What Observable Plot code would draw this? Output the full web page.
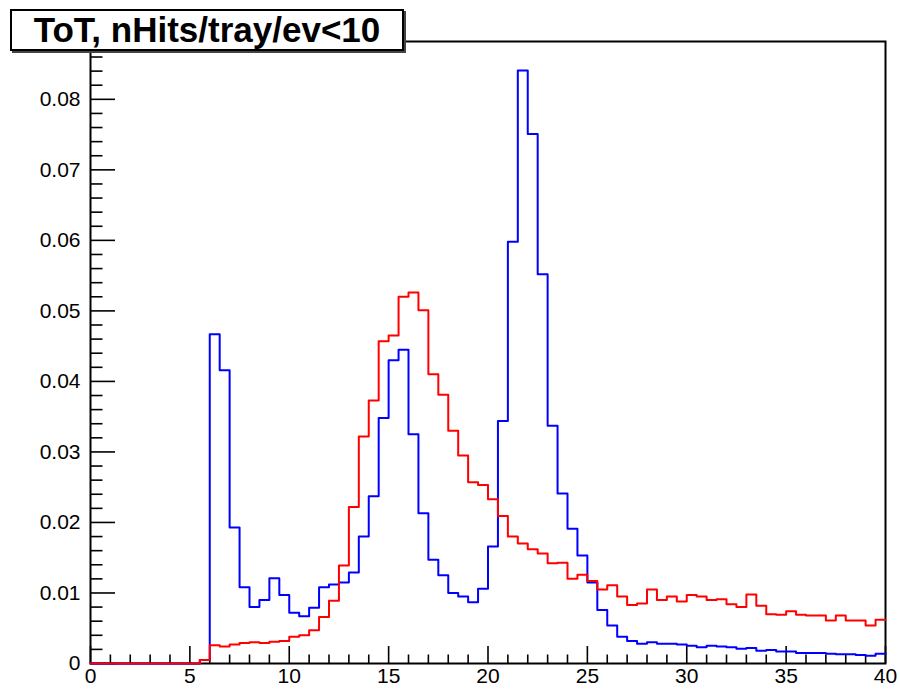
<!DOCTYPE html>
<html><head><meta charset="utf-8">
<script src="https://cdn.jsdelivr.net/npm/d3@7"></script>
<script src="https://cdn.jsdelivr.net/npm/@observablehq/plot@0.6"></script>
<style>
html,body{margin:0;padding:0;background:#fff;}
#wrap{position:relative;width:900px;height:689px;overflow:hidden;}
#title{position:absolute;left:10px;top:9px;width:390px;height:38px;border:2px solid #000;box-shadow:2px 2px 0 #444;background:#fff;font:bold 35px "Liberation Sans",Arial,sans-serif;text-align:center;line-height:38px;color:#000;white-space:nowrap;}
</style></head>
<body>
<div id="wrap"><div id="chart"></div><div id="title">ToT, nHits/tray/ev&lt;10</div></div>
<script>
// Histogram binning: 80 bins of width 0.5 between 0 and 40
const xLo = 0, xHi = 40, binWidth = 0.5;
// Blue histogram contents per bin
const blueValues = [
  0,0,0,0,0,0,0,0,0,0,0,0.0005,
  0.0467,0.0416,0.0193,0.0108,0.0080,0.0090,0.0121,0.0097,
  0.0072,0.0067,0.0079,0.0108,0.0112,0.0115,0.0129,0.0180,
  0.0237,0.0348,0.0430,0.0445,0.0325,0.0213,0.0147,0.0125,
  0.0100,0.0095,0.0087,0.0106,0.0166,0.0344,0.0598,0.0841,
  0.0751,0.0552,0.0337,0.0241,0.0191,0.0153,0.0115,0.0076,
  0.0054,0.0038,0.0032,0.0028,0.0030,0.0028,0.0028,0.0027,
  0.0025,0.0023,0.0025,0.0024,0.0023,0.0021,0.0022,0.0018,
  0.0019,0.0017,0.0017,0.0015,0.0015,0.0015,0.0014,0.0013,
  0.0013,0.0012,0.0011,0.0014
];
// Red histogram contents per bin
const redValues = [
  0,0,0,0,0,0,0,0,0,0,0,0.0005,
  0.0026,0.0024,0.0027,0.0029,0.0030,0.0029,0.0031,0.0032,
  0.0038,0.0040,0.0047,0.0066,0.0089,0.0139,0.0222,0.0322,
  0.0373,0.0457,0.0465,0.0520,0.0526,0.0501,0.0410,0.0381,
  0.0330,0.0295,0.0257,0.0253,0.0233,0.0209,0.0180,0.0170,
  0.0162,0.0156,0.0142,0.0143,0.0120,0.0126,0.0117,0.0105,
  0.0111,0.0095,0.0083,0.0085,0.0105,0.0090,0.0095,0.0088,
  0.0097,0.0095,0.0090,0.0091,0.0084,0.0080,0.0098,0.0082,
  0.0070,0.0069,0.0074,0.0069,0.0068,0.0068,0.0061,0.0068,
  0.0061,0.0061,0.0054,0.0062
];
const yMax = 0.0882;
const xMajorTicks = [0,5,10,15,20,25,30,35,40];
const xMinorTicks = d3.range(0, 41, 1).filter(v => v % 5 !== 0);
const yMajorTicks = [0,0.01,0.02,0.03,0.04,0.05,0.06,0.07,0.08];
const yMinorTicks = d3.range(1, 45).map(i => +(i*0.002).toFixed(3)).filter(v => Math.round(v*1000) % 10 !== 0);
const yTickLabels = ["0","0.01","0.02","0.03","0.04","0.05","0.06","0.07","0.08"];

function steps(values) {
  const pts = values.map((v, i) => ({x: xLo + i*binWidth, v}));
  pts.push({x: xHi, v: values[values.length-1]});
  return pts;
}
const W = 900, H = 689, mL = 90, mR = 15, mT = 41, mB = 26;
const fw = W - mL - mR, fh = H - mT - mB;

const chart = Plot.plot({
  width: W, height: H,
  marginLeft: mL, marginRight: mR, marginTop: mT, marginBottom: mB,
  style: {fontFamily: "'Liberation Sans', Arial, sans-serif", fontSize: "21px", color: "#000", background: "#fff"},
  x: {domain: [xLo, xHi], ticks: xMajorTicks, tickSize: 0, tickPadding: 5, tickFormat: d => String(d), label: null},
  y: {domain: [0, yMax], ticks: yMajorTicks, tickSize: 0, tickPadding: 10, tickFormat: d => yTickLabels[yMajorTicks.indexOf(d)] ?? "", label: null},
  marks: [
    Plot.frame({stroke: "#000", strokeWidth: 2}),
    Plot.tickY(yMajorTicks, {y: d => d, stroke: "#000", strokeWidth: 1.6, insetRight: fw - 25}),
    Plot.tickY(yMinorTicks, {y: d => d, stroke: "#000", strokeWidth: 1.6, insetRight: fw - 12.5}),
    Plot.tickX(xMajorTicks, {x: d => d, stroke: "#000", strokeWidth: 1.6, insetTop: fh - 17}),
    Plot.tickX(xMinorTicks, {x: d => d, stroke: "#000", strokeWidth: 1.6, insetTop: fh - 8.5}),
    Plot.line(steps(blueValues), {x: "x", y: "v", curve: "step-after", stroke: "#0000ff", strokeWidth: 2}),
    Plot.line(steps(redValues), {x: "x", y: "v", curve: "step-after", stroke: "#ff0000", strokeWidth: 2})
  ]
});
document.getElementById("chart").appendChild(chart);
</script>
</body></html>
